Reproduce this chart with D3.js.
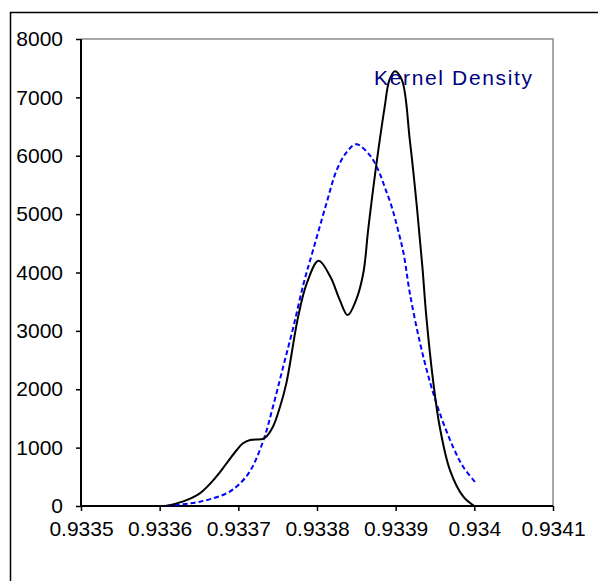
<!DOCTYPE html>
<html>
<head>
<meta charset="utf-8">
<script src="https://cdn.jsdelivr.net/npm/d3@7"></script>
<style>
  html, body { margin: 0; padding: 0; background: #fff; }
  svg { display: block; }
  text { font-family: Arial, "Liberation Sans", sans-serif; }
</style>
</head>
<body>
<svg id="chart" width="598" height="581"></svg>
<script>
// ---- data ----
const xTicks = [0.9335, 0.9336, 0.9337, 0.9338, 0.9339, 0.934, 0.9341];
const xTickLabels = ["0.9335", "0.9336", "0.9337", "0.9338", "0.9339", "0.934", "0.9341"];
const yTicks = [0, 1000, 2000, 3000, 4000, 5000, 6000, 7000, 8000];

const blackX = [0.933607, 0.933630, 0.933651, 0.933672, 0.933685, 0.933698, 0.933706, 0.933715,
  0.933728, 0.933734, 0.933744, 0.933753, 0.933761, 0.933776, 0.933787, 0.933802, 0.933817,
  0.933829, 0.933839, 0.933850, 0.933859, 0.933865, 0.933874, 0.933886, 0.933892, 0.933899,
  0.933908, 0.933918, 0.933927, 0.933934, 0.933939, 0.933948, 0.933956, 0.933969, 0.933986,
  0.934000];
const blackY = [0, 80, 217, 502, 731, 959, 1074, 1130,
  1142, 1170, 1358, 1700, 2101, 3241, 3813, 4200, 3926,
  3527, 3270, 3540, 4000, 4726, 5702, 6832, 7295, 7449,
  7295, 6267, 5120, 4092, 3241, 2101, 1358, 616, 160,
  0];

const blueX = [0.933609, 0.933651, 0.933685, 0.933700, 0.933715, 0.933732, 0.933744, 0.933757,
  0.933770, 0.933783, 0.933795, 0.933812, 0.933825, 0.933838, 0.933850, 0.933867, 0.933878,
  0.933886, 0.933895, 0.933903, 0.933910, 0.933918, 0.933931, 0.933944, 0.933956, 0.933973,
  0.933986, 0.934001];
const blueY = [0, 74, 217, 360, 600, 1130, 1700, 2385,
  3070, 3813, 4384, 5183, 5753, 6067, 6199, 6010, 5753,
  5468, 5125, 4726, 4332, 3647, 2791, 2106, 1592, 1010,
  668, 411];

const legendLabel = "Kernel Density";

// ---- drawing ----
const svg = d3.select("#chart");
const pLeft = 81, pRight = 553, pTop = 39, pBottom = 506;

const x = d3.scaleLinear().domain([0.9335, 0.9341]).range([pLeft, pRight]);
const y = d3.scaleLinear().domain([0, 8000]).range([pBottom, pTop]);

// outer frame (extends past window right/bottom)
svg.append("path")
  .attr("d", `M10.5,${600} V12.5 H${620}`)
  .attr("fill", "none").attr("stroke", "#000").attr("stroke-width", 1.5);

// plot area top/right border (gray)
svg.append("path")
  .attr("d", `M${pLeft},${pTop} H${pRight} V${pBottom}`)
  .attr("fill", "none").attr("stroke", "#8c8c8c").attr("stroke-width", 1.5);

// y axis
const yAxis = d3.axisLeft(y).tickValues(yTicks).tickSize(5).tickPadding(13).tickFormat(d3.format("d"));
const gy = svg.append("g").attr("transform", `translate(${pLeft},0)`).call(yAxis);
gy.select(".domain").attr("stroke", "#000").attr("stroke-width", 2).attr("d", `M0,${pTop}V${pBottom}`);
gy.selectAll(".tick line").attr("stroke", "#000").attr("stroke-width", 1.5);
gy.selectAll(".tick text").attr("font-size", 21).attr("fill", "#000")
  .attr("font-family", "Arial, 'Liberation Sans', sans-serif");

// x axis
const xAxis = d3.axisBottom(x).tickValues(xTicks).tickSize(5).tickPadding(10)
  .tickFormat((d, i) => xTickLabels[i]);
const gx = svg.append("g").attr("transform", `translate(0,${pBottom})`).call(xAxis);
gx.select(".domain").attr("stroke", "#000").attr("stroke-width", 2).attr("d", `M${pLeft},0H${pRight}`);
gx.selectAll(".tick line").attr("stroke", "#000").attr("stroke-width", 1.5);
gx.selectAll(".tick text").attr("font-size", 21).attr("fill", "#000")
  .attr("font-family", "Arial, 'Liberation Sans', sans-serif");

const line = d3.line().x(d => x(d[0])).y(d => y(d[1])).curve(d3.curveCatmullRom.alpha(0.5));

const blueData = blueX.map((v, i) => [v, blueY[i]]);
const blackData = blackX.map((v, i) => [v, blackY[i]]);

svg.append("path").datum(blueData)
  .attr("d", line).attr("fill", "none")
  .attr("stroke", "#0000ff").attr("stroke-width", 2).attr("stroke-dasharray", "5,3");

svg.append("path").datum(blackData)
  .attr("d", line).attr("fill", "none")
  .attr("stroke", "#000").attr("stroke-width", 2);

svg.append("text")
  .attr("x", 374).attr("y", 85)
  .attr("font-size", 21).attr("fill", "#000080")
  .attr("textLength", 158).attr("lengthAdjust", "spacing")
  .text(legendLabel);
</script>
</body>
</html>
